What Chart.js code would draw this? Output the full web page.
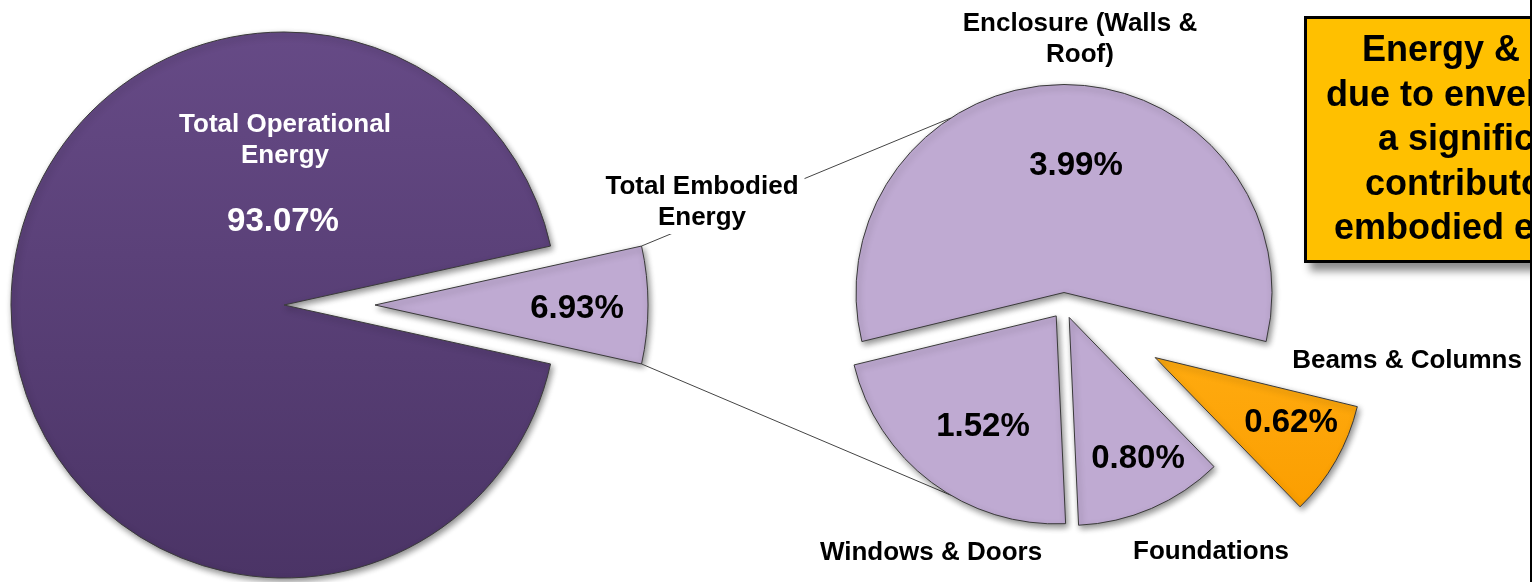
<!DOCTYPE html>
<html>
<head>
<meta charset="utf-8">
<script src="https://cdn.jsdelivr.net/npm/chart.js@4.4.1/dist/chart.umd.min.js"></script>
<style>
  html, body { margin: 0; padding: 0; background: #fff; }
  body { width: 1532px; height: 582px; overflow: hidden; position: relative; font-family: "Liberation Sans", Arial, sans-serif; }
  canvas { position: absolute; left: 0; top: 0; }
  #noteClip { position: absolute; left: 0; top: 0; width: 1530px; height: 582px; overflow: hidden; }
  #note {
    position: absolute; left: 1304px; top: 16px; width: 358px; height: 247px;
    box-sizing: border-box; border: 3px solid #000; background: #ffc000;
    box-shadow: 6px 8px 8px rgba(0,0,0,.45);
    font-weight: bold; font-size: 36px; line-height: 44.6px; text-align: center;
    padding-top: 8px; color: #000;
  }
  #edge { position: absolute; left: 1530px; top: 0; width: 2px; height: 582px; background: #000; }
</style>
</head>
<body>
<canvas id="mainPie" width="1532" height="582"></canvas>
<canvas id="detailPie" width="1532" height="582"></canvas>
<div id="noteClip">
  <div id="note">Energy &amp; cost<br>due to envelope is<br>a significant<br>contributor to<br>embodied energy</div>
</div>
<div id="edge"></div>
<script>
// data
const mainCategories = ['Total Operational Energy', 'Total Embodied Energy'];
const mainValues = [93.07, 6.93];
const embodiedCategories = ['Enclosure (Walls & Roof)', 'Beams & Columns', 'Foundations', 'Windows & Doors'];
const embodiedValues = [3.99, 0.62, 0.80, 1.52];

// layout / style
const W = 1532, H = 582;
const mainCenter = { x: 284, y: 305 }, mainRadius = 273;
const detailCenter = { x: 1064, y: 305.5 }, detailRadius = 208;
const mainExplode = [0, 91];
const detailExplode = [13, 105, 13, 13];
const nameFont = 'bold 26px "Liberation Sans", Arial, sans-serif';
const valueFont = 'bold 33px "Liberation Sans", Arial, sans-serif';
const mainSpots = [
  { name: [285, 140], value: [283, 222], wrap: 240, color: '#fff' },
  { name: [702, 202], value: [577, 309], wrap: 220, color: '#000', backing: true }
];
const detailSpots = [
  { name: [1080, 39.5], value: [1076, 166], wrap: 260, color: '#000' },
  { name: [1407, 361], value: [1291, 423], wrap: 400, color: '#000' },
  { name: [1211, 552], value: [1138, 459], wrap: 400, color: '#000' },
  { name: [931, 553], value: [983, 427], wrap: 400, color: '#000' }
];
// where the series lines meet the small pie (slice index, angle in degrees)
const seriesLineEnds = [{ index: 0, angle: 237 }, { index: 3, angle: 120.5 }];

const sum = (a) => a.reduce((s, v) => s + v, 0);
const padFor = (c) => ({
  left: Math.max(0, 2 * c.x - W), right: Math.max(0, W - 2 * c.x),
  top: Math.max(0, 2 * c.y - H), bottom: Math.max(0, H - 2 * c.y)
});

function purpleGradient(chart) {
  const g = chart.ctx.createLinearGradient(0, mainCenter.y - mainRadius, 0, mainCenter.y + mainRadius);
  g.addColorStop(0, '#664a86');
  g.addColorStop(1, '#4b3466');
  return g;
}
function orangeGradient(chart) {
  const g = chart.ctx.createLinearGradient(0, 350, 0, 510);
  g.addColorStop(0, '#ffab10');
  g.addColorStop(1, '#fb9e00');
  return g;
}

function shifted(el, d) {
  const mid = (el.startAngle + el.endAngle) / 2;
  return { x: el.x + Math.cos(mid) * d, y: el.y + Math.sin(mid) * d };
}

// moves each slice outwards while it is drawn, and gives it a soft drop shadow
const explodePlugin = {
  id: 'explodeSlices',
  beforeDatasetDraw(chart, args, opts) {
    const ctx = chart.ctx;
    ctx.save();
    ctx.shadowColor = 'rgba(0,0,0,0.45)';
    ctx.shadowBlur = 6;
    ctx.shadowOffsetX = 2;
    ctx.shadowOffsetY = 3;
    args.meta.data.forEach((el, i) => {
      el._baseX = el.x; el._baseY = el.y;
      const p = shifted(el, opts.distances[i] || 0);
      el.x = p.x; el.y = p.y;
    });
  },
  afterDatasetDraw(chart, args) {
    args.meta.data.forEach((el) => { el.x = el._baseX; el.y = el._baseY; });
    chart.ctx.restore();
  }
};

function wrapText(ctx, text, max) {
  const words = text.split(' ');
  const lines = [];
  let cur = '';
  words.forEach((w) => {
    const t = cur ? cur + ' ' + w : w;
    if (ctx.measureText(t).width > max && cur) { lines.push(cur); cur = w; } else { cur = t; }
  });
  lines.push(cur);
  return lines;
}

function drawLabels(ctx, categories, values, spots) {
  ctx.textAlign = 'center';
  ctx.textBaseline = 'middle';
  categories.forEach((cat, i) => {
    const s = spots[i];
    ctx.font = nameFont;
    const lines = wrapText(ctx, cat, s.wrap);
    const lh = 31;
    const y0 = s.name[1] - (lines.length - 1) * lh / 2;
    if (s.backing) {
      const w = Math.max(...lines.map((l) => ctx.measureText(l).width)) + 12;
      const h = lines.length * lh + 2;
      ctx.fillStyle = '#fff';
      ctx.fillRect(s.name[0] - w / 2, s.name[1] - h / 2, w, h);
    }
    ctx.fillStyle = s.color;
    lines.forEach((l, k) => ctx.fillText(l, s.name[0], y0 + k * lh));
    ctx.font = valueFont;
    ctx.fillText(values[i].toFixed(2) + '%', s.value[0], s.value[1]);
  });
}

const mainChart = new Chart(document.getElementById('mainPie'), {
  type: 'pie',
  data: {
    labels: mainCategories,
    datasets: [{
      data: mainValues,
      backgroundColor: (c) => c.dataIndex === 0 ? purpleGradient(c.chart) : '#bfaad2',
      borderColor: '#3a3a3a',
      borderWidth: 1,
      borderJoinStyle: 'miter'
    }]
  },
  options: {
    responsive: false,
    animation: false,
    events: [],
    radius: mainRadius,
    rotation: 90 - 360 * (mainValues[0] + mainValues[1] / 2) / sum(mainValues),
    layout: { padding: padFor(mainCenter) },
    plugins: {
      legend: { display: false },
      tooltip: { enabled: false },
      explodeSlices: { distances: mainExplode }
    }
  },
  plugins: [explodePlugin]
});

const overlayPlugin = {
  id: 'overlay',
  beforeDatasetsDraw(chart) {
    // series lines from the split slice to the small pie
    const ctx = chart.ctx;
    const big = mainChart.getDatasetMeta(0).data[1];
    const bigC = shifted(big, mainExplode[1]);
    const from = [big.startAngle, big.endAngle].map((a) => ({
      x: bigC.x + Math.cos(a) * big.outerRadius, y: bigC.y + Math.sin(a) * big.outerRadius
    }));
    const meta = chart.getDatasetMeta(0);
    ctx.save();
    ctx.strokeStyle = '#444';
    ctx.lineWidth = 1;
    seriesLineEnds.forEach((e, k) => {
      const el = meta.data[e.index];
      const c = shifted(el, detailExplode[e.index]);
      const a = e.angle * Math.PI / 180;
      ctx.beginPath();
      ctx.moveTo(from[k].x, from[k].y);
      ctx.lineTo(c.x + Math.cos(a) * el.outerRadius, c.y + Math.sin(a) * el.outerRadius);
      ctx.stroke();
    });
    ctx.restore();
  },
  afterDatasetsDraw(chart) {
    const ctx = chart.ctx;
    ctx.save();
    drawLabels(ctx, mainCategories, mainValues, mainSpots);
    drawLabels(ctx, embodiedCategories, embodiedValues, detailSpots);
    ctx.restore();
  }
};

const detailChart = new Chart(document.getElementById('detailPie'), {
  type: 'pie',
  data: {
    labels: embodiedCategories,
    datasets: [{
      data: embodiedValues,
      backgroundColor: (c) => c.dataIndex === 1 ? orangeGradient(c.chart) : '#bfaad2',
      borderColor: '#3a3a3a',
      borderWidth: 1,
      borderJoinStyle: 'miter'
    }]
  },
  options: {
    responsive: false,
    animation: false,
    events: [],
    radius: detailRadius,
    rotation: -180 * embodiedValues[0] / sum(embodiedValues),
    layout: { padding: padFor(detailCenter) },
    plugins: {
      legend: { display: false },
      tooltip: { enabled: false },
      explodeSlices: { distances: detailExplode }
    }
  },
  plugins: [explodePlugin, overlayPlugin]
});
</script>
</body>
</html>
